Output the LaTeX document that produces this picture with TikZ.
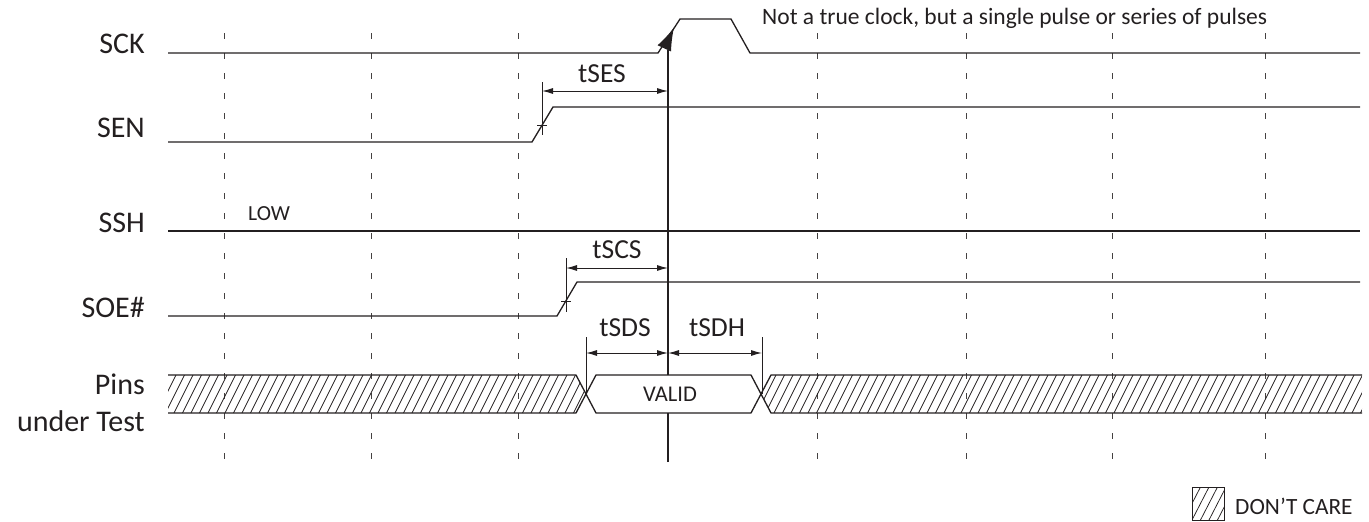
\documentclass[tikz,border=0pt]{standalone}
\usepackage{fontspec}
\setmainfont{Carlito}
\usetikzlibrary{arrows.meta}
\definecolor{ink}{HTML}{231F20}
\newcommand\fsz[1]{\fontsize{#1}{#1}\selectfont}
\begin{document}
\begin{tikzpicture}[x=1pt,y=-1pt,
  sig/.style={draw=ink, line width=1.3pt, line join=miter},
  gridl/.style={draw=ink!85, line width=1pt, dash pattern=on 6pt off 14pt},
  dimline/.style={draw=ink, line width=1pt, {Latex[length=11pt,width=6pt]}-{Latex[length=11pt,width=6pt]}},
  extl/.style={draw=ink, line width=0.9pt},
  hatchl/.style={draw=ink, line width=0.75pt},
  lab/.style={font=\fsz{30}, text=ink, anchor=base east, inner sep=0pt},
  tlab/.style={font=\fsz{27.5}, text=ink, anchor=base, inner sep=0pt},
  ]
\useasboundingbox (0,0) rectangle (1369,522);

% grid lines
\foreach \gx in {224,371,518,817,966,1112,1265}
  \draw[gridl] (\gx,33) -- (\gx,462);

% labels
\node[lab] (lsck) at (145,53) {SCK};
\node[lab] (lsen) at (145,137) {SEN};
\node[lab] (lssh) at (145,232) {SSH};
\node[lab] (lsoe) at (145,317) {SOE\#};
\node[lab] (lpins) at (145,394) {Pins};
\node[lab] (lput) at (145,431) {under Test};

% SCK
\draw[sig] (168,53) -- (658,53) -- (680,19) -- (731,19) -- (750,53) -- (1360,53);
\node[font=\fsz{23.5}, text=ink, anchor=base west, inner sep=0pt] (note) at (762,24)
  {Not a true clock, but a single pulse or series of pulses};

% SEN
\draw[sig] (168,142) -- (532,142) -- (553,107) -- (1360,107);
% SSH
\draw[sig] (168,231) -- (1360,231);
\node[font=\fsz{21.5}, text=ink, anchor=base west, inner sep=0pt] (low) at (248,220) {LOW};
% SOE#
\draw[sig] (168,316) -- (557,316) -- (577,282) -- (1360,282);

% clock edge reference line with arrow (interrupted by the VALID box)
\coordinate (clkbot) at (668,462);
\coordinate (clkvb) at (668,413);
\coordinate (clkvt) at (668,375);
\coordinate (clkmid) at (668,50);
\coordinate (clkback) at (664.5,48);
\coordinate (clktip) at (674,27.5);
\draw[sig, line width=1.1pt] (clkbot) -- (clkvb);
\draw[sig, line width=1.1pt] (clkvt) -- (clkmid);
\draw[draw=ink, line width=1.1pt, -{Latex[length=23pt,width=15pt]}] (clkback) -- (clktip);

% tSES
\coordinate (sesA) at (542,82);
\coordinate (sesB) at (542,135);
\draw[extl] (sesA) -- (sesB);
\draw[extl] (537,125) -- (547,125);
\coordinate (sesL) at (542,91);
\coordinate (sesR) at (668,91);
\draw[dimline] (sesL) -- (sesR);
\node[tlab] (tses) at (602,82) {tSES};

% tSCS
\coordinate (scsA) at (566,258);
\coordinate (scsB) at (566,312);
\draw[extl] (scsA) -- (scsB);
\draw[extl] (561,301) -- (571,301);
\coordinate (scsL) at (566,268);
\coordinate (scsR) at (668,268);
\draw[dimline] (scsL) -- (scsR);
\node[tlab] (tscs) at (617,258) {tSCS};

% tSDS / tSDH
\coordinate (sdsA) at (586,337);
\coordinate (sdsB) at (586,394);
\coordinate (sdhA) at (762,337);
\coordinate (sdhB) at (762,394);
\draw[extl] (sdsA) -- (sdsB);
\draw[extl] (sdhA) -- (sdhB);
\coordinate (sdsL) at (586,353);
\coordinate (sdsR) at (668,353);
\coordinate (sdhR) at (762,353);
\draw[dimline] (sdsL) -- (sdsR);
\draw[dimline] (sdsR) -- (sdhR);
\node[tlab] (tsds) at (625,336) {tSDS};
\node[tlab] (tsdh) at (717,336) {tSDH};

% Pins under test band
\begin{scope}
  \clip (168,375) -- (576,375) -- (586,394) -- (576,413) -- (168,413) -- cycle;
  \foreach \hx in {140,148.5,...,600} \draw[hatchl] (\hx,413) -- (\hx+19,375);
\end{scope}
\begin{scope}
  \clip (1362,375) -- (771,375) -- (761,394) -- (771,413) -- (1362,413) -- cycle;
  \foreach \hx in {740,748.5,...,1370} \draw[hatchl] (\hx,413) -- (\hx+19,375);
\end{scope}
\draw[sig] (168,375) -- (576,375) -- (596,413) -- (751,413) -- (771,375) -- (1362,375);
\draw[sig] (168,413) -- (576,413) -- (596,375) -- (751,375) -- (771,413) -- (1362,413);
\node[font=\fsz{22.5}, text=ink, anchor=base, inner sep=0pt] (valid) at (670,401) {VALID};

% legend
\begin{scope}
  \clip (1192,487) rectangle (1224,520);
  \foreach \hx in {1175,1183.5,...,1230} \draw[hatchl] (\hx,520) -- (\hx+17,487);
\end{scope}
\draw[draw=ink, line width=1pt] (1192,487) rectangle (1224,520);
\node[font=\fsz{23.3}, text=ink, anchor=base west, inner sep=0pt] (dc) at (1235,514) {DON’T CARE};
\end{tikzpicture}
\end{document}
